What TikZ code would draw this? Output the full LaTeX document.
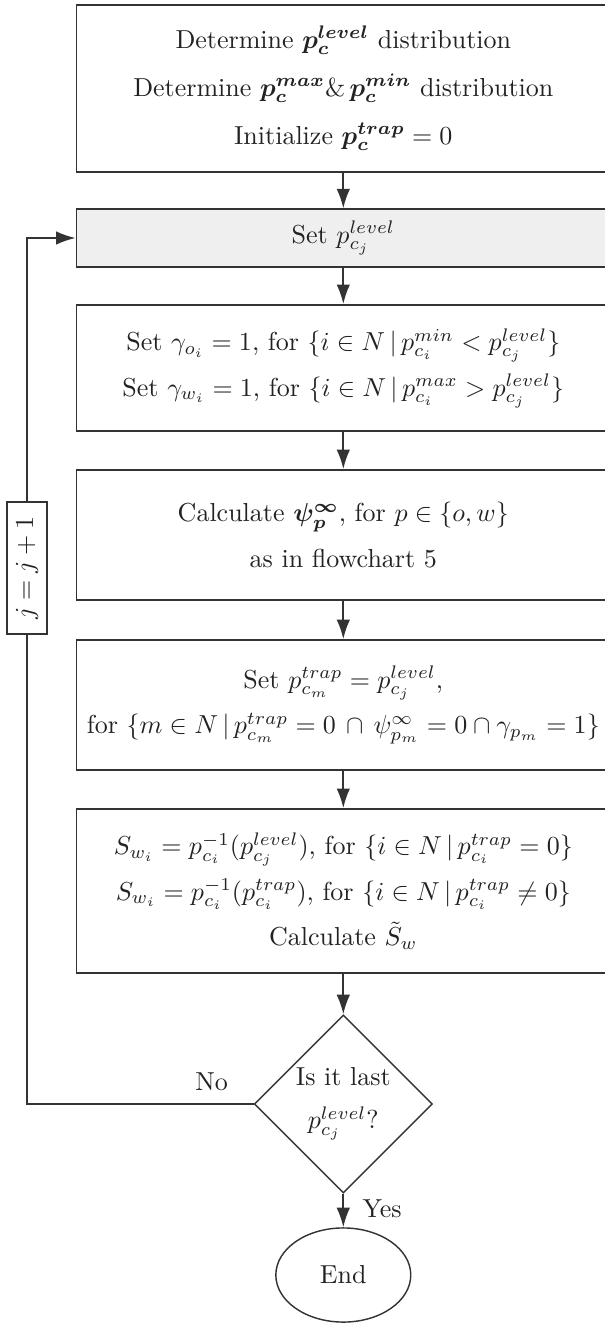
\documentclass[tikz,border=0pt]{standalone}
\usepackage{amsmath,amssymb,bm}
\usetikzlibrary{shapes.geometric,arrows.meta}
\definecolor{ln}{HTML}{333333}
\definecolor{txt}{HTML}{222222}
\definecolor{grayfill}{HTML}{EFEFEF}
\begin{document}
\begin{tikzpicture}[x=0.3846pt,y=-0.3846pt,
  box/.style={draw=ln, line width=0.7pt, minimum width=205.2pt, inner sep=0pt, align=center, text=txt, font=\fontsize{10}{17.5}\selectfont},
  arr/.style={draw=ln, line width=0.7pt, -{Latex[length=7.5pt,width=5.2pt]}},
  decision/.style={diamond, aspect=1, draw=ln, line width=0.55pt, minimum width=68.5pt, minimum height=68.5pt, inner sep=0pt, align=center, text=txt, font=\fontsize{10}{16.5}\selectfont},
  terminal/.style={ellipse, draw=ln, line width=0.55pt, minimum width=51.9pt, minimum height=36.2pt, inner sep=0pt, text=txt},
  counter/.style={draw=ln, line width=0.6pt, fill=white, rotate=90, minimum width=50.8pt, minimum height=15.4pt, inner sep=0pt, text=txt},
  lbl/.style={text=txt}
]
\useasboundingbox (0,0) rectangle (604,1323);

\node[box, minimum height=64.2pt, font=\fontsize{10}{18.5}\selectfont] (b1) at (343.3,88.5)
  {Determine $\bm{p_c^{level}}$ distribution\\
   Determine $\bm{p_c^{max}}$\&\,$\bm{p_c^{min}}$ distribution\\
   Initialize $\bm{p_c^{trap}}=0$};
\node[box, fill=grayfill, minimum height=22.1pt] (b2) at (343.3,238) {Set $p_{c_j}^{level}$};
\node[box, minimum height=48.5pt] (b3) at (343.3,368)
  {Set $\gamma_{o_i}=1$, for $\{i\in N\,|\,p_{c_i}^{min}<p_{c_j}^{level}\}$\\
   Set $\gamma_{w_i}=1$, for $\{i\in N\,|\,p_{c_i}^{max}>p_{c_j}^{level}\}$};
\node[box, minimum height=50pt] (b4) at (343.3,535)
  {Calculate $\bm{\psi_p^{\infty}}$, for $p\in\{o,w\}$\\ as in flowchart 5};
\node[box, minimum height=50pt] (b5) at (343.3,705)
  {Set $p_{c_m}^{trap}=p_{c_j}^{level}$,\\
   for $\{m\in N\,|\,p_{c_m}^{trap}=0\,\cap\,\psi_{p_m}^{\infty}=0\cap\gamma_{p_m}=1\}$};
\node[box, minimum height=63.1pt] (b6) at (343.3,891)
  {$S_{w_i}=p_{c_i}^{-1}(p_{c_j}^{level})$, for $\{i\in N\,|\,p_{c_i}^{trap}=0\}$\\
   $S_{w_i}=p_{c_i}^{-1}(p_{c_i}^{trap})$, for $\{i\in N\,|\,p_{c_i}^{trap}\neq0\}$\\
   Calculate $\tilde{S}_w$};
\node[decision] (dec) at (343.3,1104) {Is it last\\ $p_{c_j}^{level}$?};
\node[terminal] (endn) at (343.3,1275) {End};

\coordinate (lc) at (27,1104);
\coordinate (lt) at (27,238);

\draw[arr] (b1) -- (b2);
\draw[arr] (b2) -- (b3);
\draw[arr] (b3) -- (b4);
\draw[arr] (b4) -- (b5);
\draw[arr] (b5) -- (b6);
\draw[arr] (b6) -- (dec);
\draw[arr] (dec) -- node[lbl, pos=0.45, right=3.7pt] {Yes} (endn);
\draw[arr] (dec.west) -- node[lbl, pos=0.185, above=1.3pt] {No} (lc) -- (lt) -- (b2.west);

\node[counter] (jinc) at (27,568) {$j=j+1$};
\end{tikzpicture}
\end{document}
